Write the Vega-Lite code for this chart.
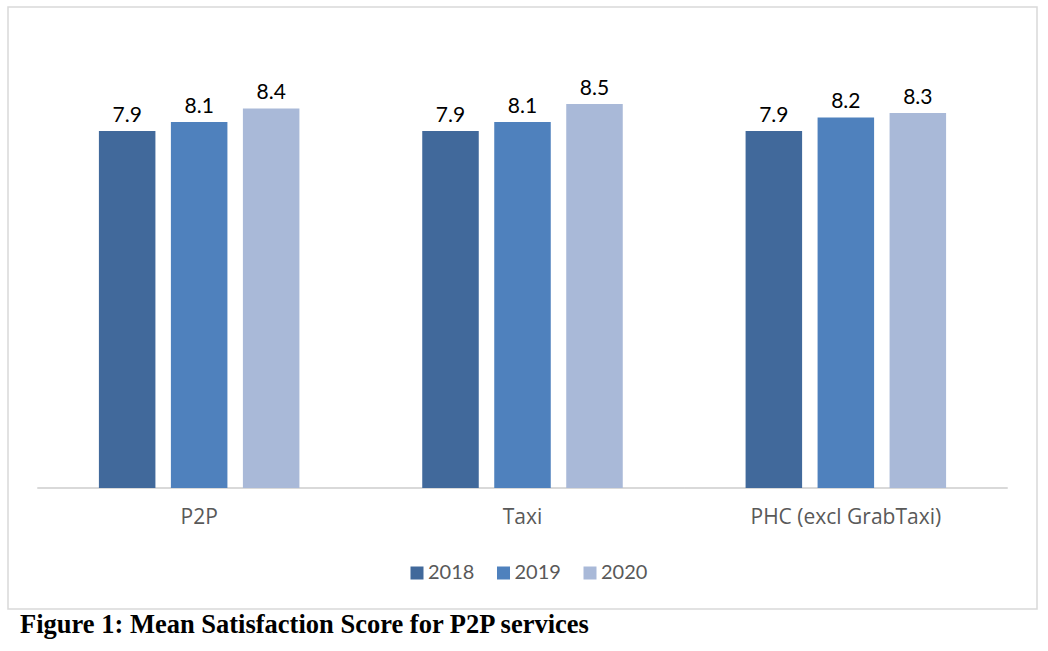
{
  "$schema": "https://vega.github.io/schema/vega-lite/v6.json",
  "width": 1029,
  "height": 602,
  "autosize": {"type": "none"},
  "padding": {"left": 8, "top": 7, "right": 11, "bottom": 42},
  "background": "white",
  "config": {
    "view": {"stroke": "#D9D9D9", "strokeWidth": 1.5},
    "font": "Lato"
  },
  "title": {
    "text": "Figure 1: Mean Satisfaction Score for P2P services",
    "orient": "bottom",
    "anchor": "start",
    "frame": "group",
    "font": "Liberation Serif",
    "fontWeight": "bold",
    "fontSize": 26.5,
    "color": "#000000",
    "offset": 3,
    "dx": 12
  },
  "data": {
    "values": [
      {"category": "P2P", "year": "2018", "score": 7.9},
      {"category": "P2P", "year": "2019", "score": 8.1},
      {"category": "P2P", "year": "2020", "score": 8.4},
      {"category": "Taxi", "year": "2018", "score": 7.9},
      {"category": "Taxi", "year": "2019", "score": 8.1},
      {"category": "Taxi", "year": "2020", "score": 8.5},
      {"category": "PHC (excl GrabTaxi)", "year": "2018", "score": 7.9},
      {"category": "PHC (excl GrabTaxi)", "year": "2019", "score": 8.2},
      {"category": "PHC (excl GrabTaxi)", "year": "2020", "score": 8.3}
    ]
  },
  "encoding": {
    "x": {
      "field": "category",
      "type": "nominal",
      "sort": ["P2P", "Taxi", "PHC (excl GrabTaxi)"],
      "scale": {"paddingInner": 0, "paddingOuter": 0.0912},
      "axis": {
        "title": null,
        "orient": "bottom",
        "offset": -121,
        "domain": false,
        "ticks": false,
        "labelAngle": 0,
        "labelPadding": 18,
        "labelFontSize": 21,
        "labelLimit": 0,
        "labelColor": "#595959",
        "labelFont": "Open Sans"
      }
    }
  },
  "layer": [
    {
      "mark": {"type": "rect", "stroke": "#D9D9D9", "strokeWidth": 1.5, "fill": null},
      "encoding": {
        "y": {"datum": 0, "type": "quantitative", "scale": {"domain": [-2.678, 10.644], "nice": false, "zero": false}, "axis": null},
        "y2": {"datum": 0}
      }
    },
    {
      "mark": {"type": "bar"},
      "encoding": {
        "xOffset": {"field": "year", "type": "nominal", "scale": {"paddingInner": 0.215, "paddingOuter": 0.853}},
        "y": {"field": "score", "type": "quantitative", "scale": {"domain": [-2.678, 10.644], "nice": false, "zero": false}, "axis": null},
        "y2": {"datum": 0},
        "color": {
          "field": "year",
          "type": "nominal",
          "scale": {"domain": ["2018", "2019", "2020"], "range": ["#41699B", "#4F81BD", "#A9B9D8"]},
          "legend": {
            "title": null,
            "orient": "none",
            "direction": "horizontal",
            "legendX": 399,
            "legendY": 556,
            "symbolType": "square",
            "symbolSize": 169,
            "symbolStrokeWidth": 0,
            "labelFontSize": 20,
            "labelColor": "#595959",
            "labelFont": "Lato",
            "columnPadding": 18.5,
            "labelOffset": 1,
            "padding": 0
          }
        }
      }
    },
    {
      "mark": {"type": "text", "baseline": "bottom", "dy": -5, "fontSize": 21, "color": "#000000", "font": "Lato"},
      "encoding": {
        "xOffset": {"field": "year", "type": "nominal", "scale": {"paddingInner": 0.215, "paddingOuter": 0.853}},
        "y": {"field": "score", "type": "quantitative", "scale": {"domain": [-2.678, 10.644], "nice": false, "zero": false}, "axis": null},
        "text": {"field": "score", "type": "quantitative", "format": ".1f"}
      }
    }
  ]
}
